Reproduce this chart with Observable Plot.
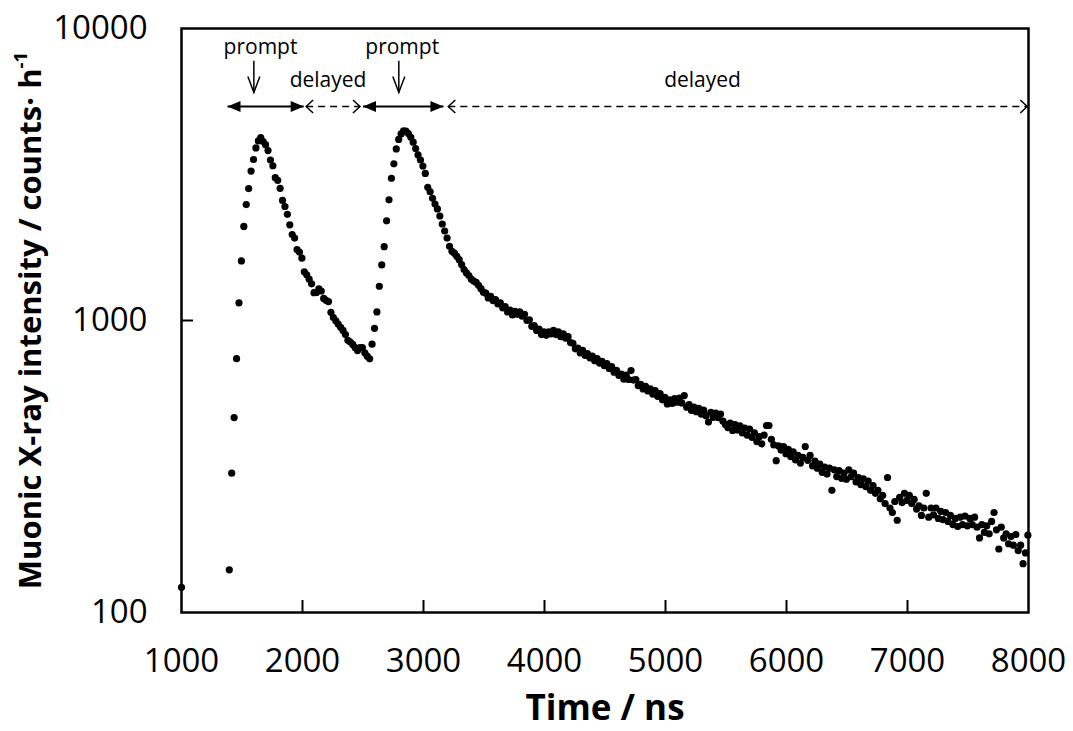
<!DOCTYPE html>
<html>
<head>
<meta charset="utf-8">
<script src="https://cdn.jsdelivr.net/npm/d3@7"></script>
<script src="https://cdn.jsdelivr.net/npm/@observablehq/plot@0.6"></script>
<style>
  body { margin: 0; background: #fff; }
  #chart { width: 1073px; height: 731px; }
</style>
</head>
<body>
<div id="chart"></div>
<script>
// ---- data (time bins of 20 ns, first bin at 1395 ns) ----
const binStart = 1395;
const binWidth = 20;
const counts = [
  // 1395 – 2555 ns (first prompt peak + delayed)
  140, 300, 465, 740, 1150, 1600, 2100, 2494, 2830, 3250,
  3560, 3900, 4120, 4230, 4100, 4000, 3820, 3545, 3388, 3085,
  3020, 2835, 2577, 2457, 2310, 2127, 1970, 1915, 1750, 1715,
  1635, 1468, 1434, 1385, 1335, 1245, 1247, 1284, 1262, 1190,
  1172, 1161, 1067, 1024, 998, 972, 948, 925, 895, 855,
  844, 828, 807, 789, 807, 807, 775, 755, 739,
  // 2575 – 3495 ns (second prompt peak)
  830, 940, 1070, 1310, 1550, 1790, 2195, 2590, 3070, 3440,
  3870, 4170, 4355, 4465, 4450, 4370, 4240, 4080, 3880, 3690,
  3545, 3380, 3190, 2860, 2760, 2620, 2505, 2410, 2280, 2140,
  2025, 1915, 1795, 1725, 1700, 1660, 1615, 1555, 1495, 1455,
  1426, 1385, 1365, 1350, 1320, 1285, 1250,
  // 3515 – 7995 ns (delayed tail)
  1240, 1195, 1210, 1170, 1180, 1140, 1150, 1105, 1115, 1070,
  1085, 1045, 1075, 1050, 1070, 1035, 1050, 1000, 1005, 955,
  960, 925, 935, 895, 915, 890, 915, 900, 925, 895,
  915, 880, 900, 870, 880, 840, 835, 800, 805, 775,
  790, 760, 770, 745, 755, 728, 740, 715, 725, 700,
  712, 685, 695, 665, 675, 648, 655, 630, 650, 628,
  674, 625, 628, 598, 605, 583, 595, 574, 583, 560,
  575, 550, 562, 535, 545, 518, 535, 520, 540, 525,
  542, 522, 553, 505, 515, 492, 505, 487, 500, 478,
  493, 472, 449, 485, 466, 482, 465, 478, 452, 440,
  430, 445, 420, 440, 422, 436, 412, 428, 405, 425,
  398, 412, 385, 400, 378, 405, 437, 437, 392, 375,
  331, 372, 360, 370, 350, 362, 342, 355, 333, 345,
  325, 340, 370, 332, 345, 318, 330, 312, 322, 302,
  315, 298, 312, 262, 308, 292, 306, 288, 300, 286,
  308, 292, 300, 280, 290, 274, 287, 270, 282, 262,
  272, 256, 262, 245, 252, 236, 290, 228, 220, 240,
  207, 248, 238, 256, 242, 252, 236, 244, 226, 232,
  215, 228, 256, 212, 228, 216, 228, 210, 222, 208,
  220, 205, 215, 200, 210, 197, 212, 200, 214, 198,
  210, 200, 212, 196, 180, 200, 188, 198, 186, 205,
  220, 192, 165, 196, 180, 186, 172, 182, 170, 185,
  163, 170, 147, 160, 184
];
const edgeTime = [1000];
const edgeCounts = [122];

const xTickValues = [1000, 2000, 3000, 4000, 5000, 6000, 7000, 8000];
const xInnerTicks = [2000, 3000, 4000, 5000, 6000, 7000];
const yTickValues = [100, 1000, 10000];
const yInnerTicks = [1000];

// ---- annotations ----
const labelTexts = ["prompt", "delayed", "prompt", "delayed"];
const labelTimes = [1653, 2211, 2824, 5306];
const labelLevels = [8610, 6637, 8610, 6637];
const pointerTimes = [1598, 2796];
const pointerTop = 7762, pointerTip = 6039;
const rangeLevel = 5407;
const solidRanges = [[1380, 2010], [2500, 3165]];
const dashedRanges = [[2030, 2475], [3205, 7990]];

const xTitle = "Time / ns";
const yTitleMain = "Muonic X-ray intensity / counts\u00B7 h";
const yTitleSup = "-1";

// ---- build ----
const points = counts.map((c, i) => ({t: binStart + i * binWidth, c}))
  .concat(edgeTime.map((t, i) => ({t, c: edgeCounts[i]})));
const labels = labelTexts.map((text, i) => ({text, t: labelTimes[i], c: labelLevels[i]}));

const triRight = {draw(ctx) { ctx.moveTo(0, 0); ctx.lineTo(-13, -5.5); ctx.lineTo(-13, 5.5); ctx.closePath(); }};
const triLeft  = {draw(ctx) { ctx.moveTo(0, 0); ctx.lineTo(13, -5.5); ctx.lineTo(13, 5.5); ctx.closePath(); }};
const chevRight = {draw(ctx) { ctx.moveTo(-7, -6.5); ctx.lineTo(0, 0); ctx.lineTo(-7, 6.5); }};
const chevLeft  = {draw(ctx) { ctx.moveTo(7, -6.5); ctx.lineTo(0, 0); ctx.lineTo(7, 6.5); }};
const chevDown  = {draw(ctx) { ctx.moveTo(-6, -16); ctx.lineTo(0, 0); ctx.lineTo(6, -16); }};

const chart = Plot.plot({
  width: 1073,
  height: 731,
  marginLeft: 181,
  marginRight: 45,
  marginTop: 28,
  marginBottom: 119,
  style: {fontFamily: "'Open Sans', sans-serif", color: "black", background: "white"},
  x: {domain: [1000, 8000]},
  y: {type: "log", domain: [100, 10000]},
  marks: [
    Plot.axisX(xTickValues, {tickSize: 0, tickPadding: 36, fontSize: 33, label: null, tickFormat: d => String(d)}),
    Plot.axisY(yTickValues, {tickSize: 0, tickPadding: 34, fontSize: 33, label: null, tickFormat: d => String(d)}),
    Plot.tickX(xInnerTicks, {x: d => d, insetTop: 572, stroke: "black", strokeWidth: 2}),
    Plot.tickY(yInnerTicks, {y: d => d, insetRight: 835, stroke: "black", strokeWidth: 2}),
    Plot.dot(points, {x: "t", y: "c", r: 3.6, fill: "black"}),
    Plot.frame({stroke: "black", strokeWidth: 2.5}),
    // annotation labels
    Plot.text(labels, {x: "t", y: "c", text: "text", fontSize: 21, lineAnchor: "middle", fill: "black"}),
    // down pointers
    Plot.link(pointerTimes, {x1: d => d, x2: d => d, y1: () => pointerTop, y2: () => pointerTip, stroke: "black", strokeWidth: 1.5}),
    Plot.dot(pointerTimes, {x: d => d, y: () => pointerTip, symbol: chevDown, fill: "none", stroke: "black", strokeWidth: 1.5, r: 6}),
    // solid double arrows
    Plot.link(solidRanges, {x1: d => d[0], x2: d => d[1], y1: () => rangeLevel, y2: () => rangeLevel, stroke: "black", strokeWidth: 2}),
    Plot.dot(solidRanges, {x: d => d[0], y: () => rangeLevel, symbol: triLeft, fill: "black", stroke: "none", r: 6}),
    Plot.dot(solidRanges, {x: d => d[1], y: () => rangeLevel, symbol: triRight, fill: "black", stroke: "none", r: 6}),
    // dashed double arrows
    Plot.link(dashedRanges, {x1: d => d[0], x2: d => d[1], y1: () => rangeLevel, y2: () => rangeLevel, stroke: "black", strokeWidth: 1.5, strokeDasharray: "7,5"}),
    Plot.dot(dashedRanges, {x: d => d[0], y: () => rangeLevel, symbol: chevLeft, fill: "none", stroke: "black", strokeWidth: 1.5, r: 6}),
    Plot.dot(dashedRanges, {x: d => d[1], y: () => rangeLevel, symbol: chevRight, fill: "none", stroke: "black", strokeWidth: 1.5, r: 6}),
    // axis titles
    Plot.text([xTitle], {text: d => d, frameAnchor: "bottom", dy: 107, lineAnchor: "bottom", fontSize: 35, fontWeight: "bold", fill: "black"}),
    Plot.text([yTitleMain], {text: d => d, frameAnchor: "left", dx: -141, rotate: -90, textAnchor: "middle", lineAnchor: "bottom", fontSize: 31, fontWeight: "bold", fill: "black"})
  ]
});

d3.select(chart).selectAll("text")
  .filter(function () { return this.textContent === yTitleMain; })
  .each(function () {
    d3.select(this).append("tspan").attr("font-size", "0.6em").attr("dy", "-0.75em").text(yTitleSup);
  });

document.getElementById("chart").appendChild(chart);
</script>
</body>
</html>
